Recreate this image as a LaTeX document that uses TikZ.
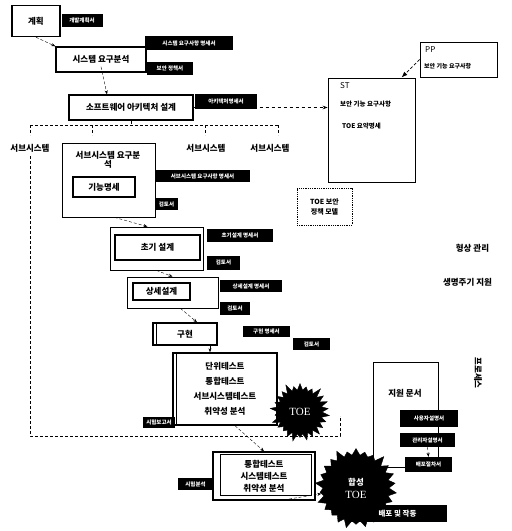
\documentclass[tikz,border=0pt]{standalone}
\usepackage{fontspec}
\setmainfont{Noto Sans CJK KR}
\newfontfamily\krfont{Noto Sans CJK KR}
\newfontfamily\toefont{Liberation Serif}
\usetikzlibrary{shapes.symbols,arrows.meta}

\begin{document}
\begin{tikzpicture}[x=1pt,y=-1pt,
  box/.style={draw,thick,fill=white,inner sep=0pt,align=center,font=\bfseries\fontsize{8.5}{9}\selectfont},
  heavy/.style={box,line width=1.4pt},
  tag/.style={fill=black,text=white,inner sep=0pt,font=\bfseries\fontsize{5.5}{6}\selectfont},
  flow/.style={densely dashed,-{Stealth[length=4pt]}},
  burst/.style={starburst,starburst points=26,starburst point height=9pt,fill=black,draw=black,text=white,inner sep=0pt,align=center},
  plain/.style={font=\bfseries\fontsize{8.5}{9}\selectfont,inner sep=0pt}]
\pgfmathsetseed{7}
\useasboundingbox (0,0) rectangle (512,531);

% planning and system level
\node[heavy,minimum width=48pt,minimum height=31pt] (plan) at (36,21) {계획};
\node[tag,minimum width=41pt,minimum height=13pt] (plandoc) at (82,20) {개발계획서};
\node[heavy,minimum width=90pt,minimum height=25pt] (sysreq) at (101,59.5) {시스템 요구분석};
\node[tag,minimum width=88pt,minimum height=14pt] (sysreqdoc) at (189,43) {시스템 요구사항 명세서};
\node[tag,minimum width=46pt,minimum height=13pt] (secdoc) at (170,68) {보안 정책서};
\draw[flow] (plan.south) -- (sysreq.north west);
\node[heavy,minimum width=124pt,minimum height=25pt] (arch) at (131,107.5) {소프트웨어 아키텍처 설계};
\draw[flow] ([yshift=6pt]sysreq.south) -- ([xshift=-24pt]arch.north);

% ST and PP
\node[draw,thick,minimum width=87pt,minimum height=104pt] (st) at (371.5,130) {};
\node[plain,anchor=west,font=\fontsize{8}{8}\selectfont] (sttitle) at (340,86) {ST};
\node[plain,anchor=west,font=\bfseries\fontsize{6.5}{7}\selectfont] (stsfr) at (340,104) {보안 기능 요구사항};
\node[plain,anchor=west,font=\bfseries\fontsize{6.5}{7}\selectfont] (sttss) at (342,126) {TOE 요약명세};
\node[draw,thick,minimum width=77pt,minimum height=35pt] (pp) at (458.5,59.5) {};
\node[plain,anchor=west,font=\fontsize{8}{8}\selectfont] (pptitle) at (425,50) {PP};
\node[plain,anchor=west,font=\bfseries\fontsize{6}{7}\selectfont] (ppsfr) at (424,66) {보안 기능 요구사항};
\draw[densely dashed,thick,-{Latex[length=6pt]}] (pp.west) -- ([xshift=30pt]st.north);
\draw[dashed,thick,-{Stealth[length=5pt]}] (arch.east) -- (arch.east -| st.west);
\node[tag,minimum width=62pt,minimum height=15pt] (archdoc) at (226,101) {아키텍처명세서};

% subsystems
\coordinate (fork) at (131,125);
\draw[densely dashed] (arch.south) -- (fork);
\draw[densely dashed] (30,125) -- (278,125);
\foreach \x in {30,92,205,278} \draw[densely dashed] (\x,125) -- (\x,135);
\node[plain] (sub1) at (30,148) {서브시스템};
\node[plain] (sub2) at (206,148) {서브시스템};
\node[plain] (sub3) at (270,148) {서브시스템};
\draw[densely dashed] (30,156) -- (30,436) -- (340,436) -- (340,416);

\node[box,minimum width=93pt,minimum height=74pt] (subreq) at (108.5,180) {};
\node[plain,align=center] (subreqtxt) at (108,160) {서브시스템 요구분\\석};
\node[heavy,minimum width=62pt,minimum height=20pt] (func) at (104,187) {기능명세};
\node[tag,minimum width=95pt,minimum height=12pt] (subreqdoc) at (202.5,176) {서브시스템 요구사항 명세서};
\node[tag,minimum width=23pt,minimum height=12pt] (subreqrev) at (166.5,204) {검토서};

\node[box,minimum width=93pt,minimum height=43pt] (initial) at (156.5,248.5) {};
\node[heavy,minimum width=85pt,minimum height=25pt] (initialin) at (157.5,247.5) {초기 설계};
\node[tag,minimum width=66pt,minimum height=13pt] (initdoc) at (240,235.5) {초기설계 명세서};
\node[tag,minimum width=33pt,minimum height=14pt] (initrev) at (223.5,262.5) {검토서};
\draw[flow] ([xshift=6pt]subreq.south) -- ([xshift=-9pt]initial.north);

\node[box,minimum width=91pt,minimum height=31pt] (detail) at (172.5,292.5) {};
\node[heavy,minimum width=57pt,minimum height=17pt] (detailin) at (161.5,291.5) {상세설계};
\node[tag,minimum width=62pt,minimum height=12pt] (detaildoc) at (251,286) {상세설계 명세서};
\node[tag,minimum width=30pt,minimum height=13pt] (detailrev) at (235,308.5) {검토서};
\draw[flow] (initial.south) -- (detail.north);

\node[heavy,minimum width=64pt,minimum height=22pt] (impl) at (185,334) {구현};
\draw ([xshift=4pt]impl.north west) -- ([xshift=4pt]impl.south west);
\node[tag,minimum width=47pt,minimum height=11pt] (impldoc) at (266.5,331.5) {구현 명세서};
\node[tag,minimum width=37pt,minimum height=12pt] (implrev) at (311.5,344) {검토서};
\draw[flow] ([xshift=8pt]detail.south) -- ([xshift=12pt]impl.north);

% tests
\node[heavy,minimum width=104pt,minimum height=72pt,font=\bfseries\fontsize{8.5}{15}\selectfont] (unit) at (225,389) {단위테스트\\통합테스트\\서브시스템테스트\\취약성 분석};
\draw ([xshift=4pt]unit.north west) -- ([xshift=4pt]unit.south west);
\node[tag,minimum width=32pt,minimum height=11pt] (unitdoc) at (159,422.5) {시험보고서};
\draw[flow] ([xshift=25pt]impl.south) -- ([xshift=-15pt]unit.north);
\node[burst,minimum width=62pt,minimum height=62pt,font=\toefont\fontsize{11}{12}\selectfont] (toe) at (300,412) {TOE};

\node[heavy,minimum width=102pt,minimum height=48pt,font=\bfseries\fontsize{8.5}{12}\selectfont] (integ) at (264,476) {통합테스트\\시스템테스트\\취약성 분석};
\draw ([xshift=8pt,yshift=-3pt]integ.north west) rectangle ([xshift=-5pt,yshift=6pt]integ.south east);
\node[tag,minimum width=35pt,minimum height=12pt] (integdoc) at (195.5,484) {시험분석};
\draw[flow] ([xshift=10pt]unit.south) -- (integ.north);

\node[burst,minimum width=84pt,minimum height=84pt,font=\toefont\fontsize{11}{13}\selectfont] (comp) at (356,488) {{\krfont\bfseries\fontsize{8.5}{10}\selectfont 합성}\\TOE};
\draw[flow] ([xshift=15pt]integ.south) -- (comp);
\node[tag,minimum width=99pt,minimum height=17pt,font=\bfseries\fontsize{7.5}{8}\selectfont] (deploy) at (397.5,513.5) {배포 및 작동};

% support and process side
\node[draw,thick,minimum width=65pt,minimum height=105pt] (support) at (405.5,414.5) {};
\node[plain] (supporttxt) at (405,393) {지원 문서};
\node[tag,minimum width=58pt,minimum height=17pt] (userdoc) at (429,418.5) {사용자설명서};
\node[tag,minimum width=55pt,minimum height=14pt] (admindoc) at (427.5,440) {관리자설명서};
\node[tag,minimum width=47pt,minimum height=15pt] (deploydoc) at (428.5,464.5) {배포절차서};
\draw[flow] (admindoc.south) -- (deploydoc.north);

\node[draw,thick,densely dotted,minimum width=55pt,minimum height=37pt,align=center,font=\bfseries\fontsize{7}{10}\selectfont] (policy) at (324.5,206.5) {TOE 보안\\정책 모델};
\node[plain] (config) at (472.5,248) {형상 관리};
\node[plain] (lifecycle) at (467.5,282) {생명주기 지원};
\node[plain,rotate=-90] (process) at (478,373) {프로세스};
\end{tikzpicture}
\end{document}
